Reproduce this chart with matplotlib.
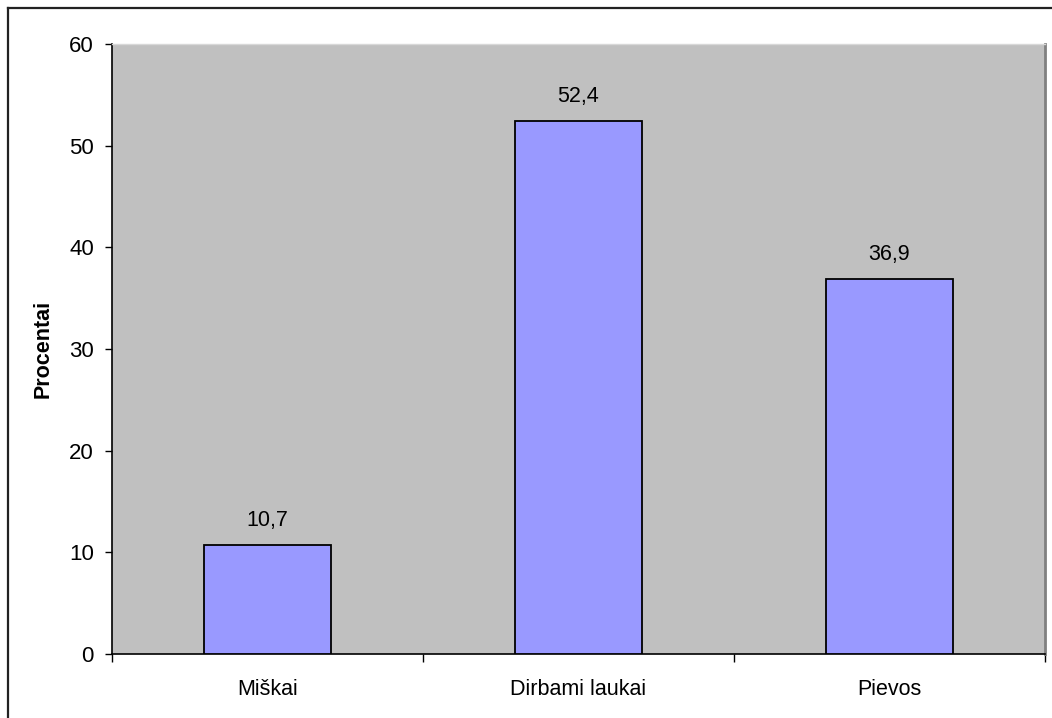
import matplotlib.pyplot as plt
from matplotlib.lines import Line2D

plt.rcParams['font.family'] = ['Liberation Sans', 'DejaVu Sans']

categories = ["Miškai", "Dirbami laukai", "Pievos"]
values = [10.7, 52.4, 36.9]
value_labels = ["10,7", "52,4", "36,9"]

W, H = 1052, 718
fig = plt.figure(figsize=(W / 100, H / 100), dpi=100)
ax = fig.add_axes([112 / W, 1 - 654 / H, (1045 - 112) / W, (654 - 44) / H])
ax.set_facecolor('#c0c0c0')

x = list(range(len(categories)))
ax.bar(x, values, width=0.41, color='#9999ff', edgecolor='black', linewidth=1.3, zorder=3)
for xi, v, lab in zip(x, values, value_labels):
    ax.annotate(lab, (xi, v), xytext=(0, 10), textcoords='offset points',
                ha='center', va='bottom', fontsize=15.5)

ax.set_xlim(-0.5, 2.5)
ax.set_ylim(0, 60)
ax.set_yticks(range(0, 61, 10))
ax.tick_params(axis='y', labelsize=16, length=5, width=1, pad=8)

# category labels centred, tick marks on the boundaries
ax.set_xticks([-0.5, 0.5, 1.5, 2.5])
ax.set_xticklabels([])
ax.set_xticks(x, minor=True)
ax.set_xticklabels(categories, minor=True, fontsize=15.5)
ax.tick_params(axis='x', which='minor', length=0, pad=18)
ax.tick_params(axis='x', which='major', length=6, width=1)

ax.set_ylabel("Procentai", fontsize=15.5, fontweight='bold', labelpad=11)

for side in ['left', 'bottom']:
    ax.spines[side].set_linewidth(1.2)
    ax.spines[side].set_color('black')
ax.spines['right'].set_color('#808080')
ax.spines['right'].set_linewidth(2)
ax.spines['top'].set_color('#d8d8d8')
ax.spines['top'].set_linewidth(1)

# frame around the chart (left and top edges)
fig.add_artist(Line2D([8 / W, 8 / W], [0, 1 - 8 / H], color='#222222', lw=1.6))
fig.add_artist(Line2D([8 / W, 1], [1 - 8 / H, 1 - 8 / H], color='#222222', lw=1.6))

fig.savefig('out.png', dpi=100)
